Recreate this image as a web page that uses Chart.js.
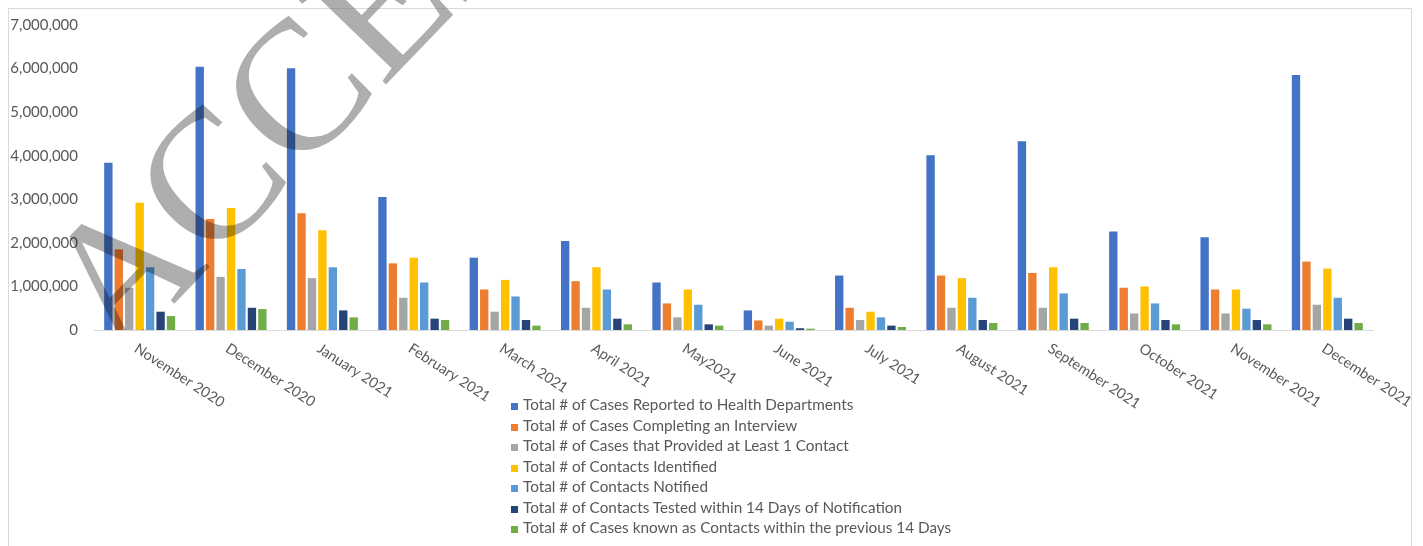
<!DOCTYPE html>
<html>
<head>
<meta charset="utf-8">
<script src="https://cdn.jsdelivr.net/npm/chart.js@4/dist/chart.umd.min.js"></script>
<style>
  html, body { margin: 0; padding: 0; background: #fff; }
  #wrap { position: relative; width: 1423px; height: 546px; overflow: hidden; }
  #frame { position: absolute; left: 8px; top: 8px; width: 1404px; height: 600px; border: 1px solid #d9d9d9; box-sizing: border-box; }
  #legend { position: absolute; left: 511px; top: 394px; font-family: Lato, "Liberation Sans", sans-serif; font-size: 15.3px; color: #595959; }
  #legend div { height: 20.5px; line-height: 20.5px; white-space: nowrap; }
  #legend span { display: inline-block; width: 7px; height: 7px; margin-right: 5px; vertical-align: 0px; }
  #contactChart { position: absolute; left: 0; top: 0; }
</style>
</head>
<body>
<div id="wrap">
  <div id="frame"></div>
  <canvas id="contactChart" width="1423" height="546"></canvas>
  <div id="legend"></div>
</div>
<script>
const months = ["November 2020", "December 2020", "January 2021", "February 2021", "March 2021", "April 2021",
  "May2021", "June 2021", "July 2021", "August 2021", "September 2021", "October 2021", "November 2021", "December 2021"];

const seriesNames = [
  "Total # of Cases Reported to Health Departments",
  "Total # of Cases Completing an Interview",
  "Total # of Cases that Provided at Least 1 Contact",
  "Total # of Contacts Identified",
  "Total # of Contacts Notified",
  "Total # of Contacts Tested within 14 Days of Notification",
  "Total # of Cases known as Contacts within the previous 14 Days"
];
const COLORS = ["#4472c4", "#ed7d31", "#a5a5a5", "#ffc000", "#5b9bd5", "#264478", "#70ad47"];

const casesReported = [3840000, 6040000, 6010000, 3050000, 1660000, 2040000, 1090000, 450000, 1250000, 4010000, 4330000, 2260000, 2130000, 5850000];
const casesInterviewed = [1850000, 2550000, 2680000, 1530000, 930000, 1120000, 610000, 220000, 510000, 1250000, 1310000, 970000, 930000, 1570000];
const casesWithContact = [970000, 1220000, 1190000, 740000, 420000, 510000, 290000, 100000, 230000, 510000, 510000, 380000, 380000, 580000];
const contactsIdentified = [2920000, 2800000, 2290000, 1660000, 1150000, 1440000, 930000, 260000, 420000, 1190000, 1440000, 1000000, 930000, 1410000];
const contactsNotified = [1440000, 1400000, 1440000, 1090000, 770000, 930000, 580000, 190000, 290000, 740000, 840000, 610000, 490000, 740000];
const contactsTested = [420000, 510000, 450000, 260000, 230000, 260000, 130000, 40000, 100000, 230000, 260000, 230000, 230000, 260000];
const casesKnownContacts = [320000, 480000, 290000, 230000, 100000, 130000, 100000, 30000, 70000, 160000, 160000, 130000, 130000, 160000];

const yTicks = [0, 1000000, 2000000, 3000000, 4000000, 5000000, 6000000, 7000000];

const allSeries = [casesReported, casesInterviewed, casesWithContact, contactsIdentified,
  contactsNotified, contactsTested, casesKnownContacts];

// rotated month labels, drawn clockwise like the original
const monthLabels = {
  id: "monthLabels",
  afterDraw(chart) {
    const { ctx, chartArea } = chart;
    const xScale = chart.scales.x;
    ctx.save();
    ctx.fillStyle = "#595959";
    ctx.font = "14.5px Lato, 'Liberation Sans', sans-serif";
    ctx.textAlign = "left";
    ctx.textBaseline = "top";
    chart.data.labels.forEach((label, i) => {
      const x = xScale.getPixelForValue(i);
      ctx.save();
      ctx.translate(x, chartArea.bottom + 11);
      ctx.rotate(33 * Math.PI / 180);
      ctx.fillText(label, 0, 0);
      ctx.restore();
    });
    ctx.restore();
  }
};

// the grey "ACCEPTED" stamp lying over the top left of the figure
const stamp = {
  id: "stamp",
  afterDraw(chart) {
    const { ctx, chartArea } = chart;
    ctx.save();
    ctx.beginPath();
    ctx.rect(0, 0, chart.width, chartArea.bottom);
    ctx.clip();
    ctx.globalCompositeOperation = "multiply";
    ctx.fillStyle = "rgba(120,120,120,0.6)";
    ctx.font = "185px 'Liberation Serif', serif";
    ctx.textBaseline = "alphabetic";
    ctx.translate(118, 362);
    ctx.rotate(-46 * Math.PI / 180);
    ctx.fillText("ACCEPTED", 0, 0);
    ctx.restore();
  }
};

const chart = new Chart(document.getElementById("contactChart"), {
  type: "bar",
  data: {
    labels: months,
    datasets: allSeries.map((values, i) => ({
      label: seriesNames[i],
      data: values,
      backgroundColor: COLORS[i],
      categoryPercentage: 0.8,
      barPercentage: 0.8
    }))
  },
  options: {
    responsive: false,
    animation: false,
    layout: { padding: { top: 15, left: 0, right: 50, bottom: 216 } },
    plugins: {
      legend: { display: false },
      tooltip: { enabled: false }
    },
    scales: {
      x: {
        grid: { display: false, drawTicks: false },
        border: { display: true, color: "#d9d9d9", width: 1 },
        ticks: { display: false }
      },
      y: {
        min: 0,
        max: 7000000,
        afterFit(scale) { scale.width = 94; },
        afterBuildTicks(scale) { scale.ticks = yTicks.map(v => ({ value: v })); },
        grid: { display: false, drawTicks: false },
        border: { display: false },
        ticks: {
          padding: 16,
          color: "#595959",
          font: { family: "Lato, 'Liberation Sans', sans-serif", size: 15 },
          callback: (v) => v.toLocaleString("en-US")
        }
      }
    }
  },
  plugins: [monthLabels, stamp]
});

const legendEl = document.getElementById("legend");
chart.data.datasets.forEach((ds) => {
  const row = document.createElement("div");
  const box = document.createElement("span");
  box.style.background = ds.backgroundColor;
  row.appendChild(box);
  row.appendChild(document.createTextNode(ds.label));
  legendEl.appendChild(row);
});
</script>
</body>
</html>
